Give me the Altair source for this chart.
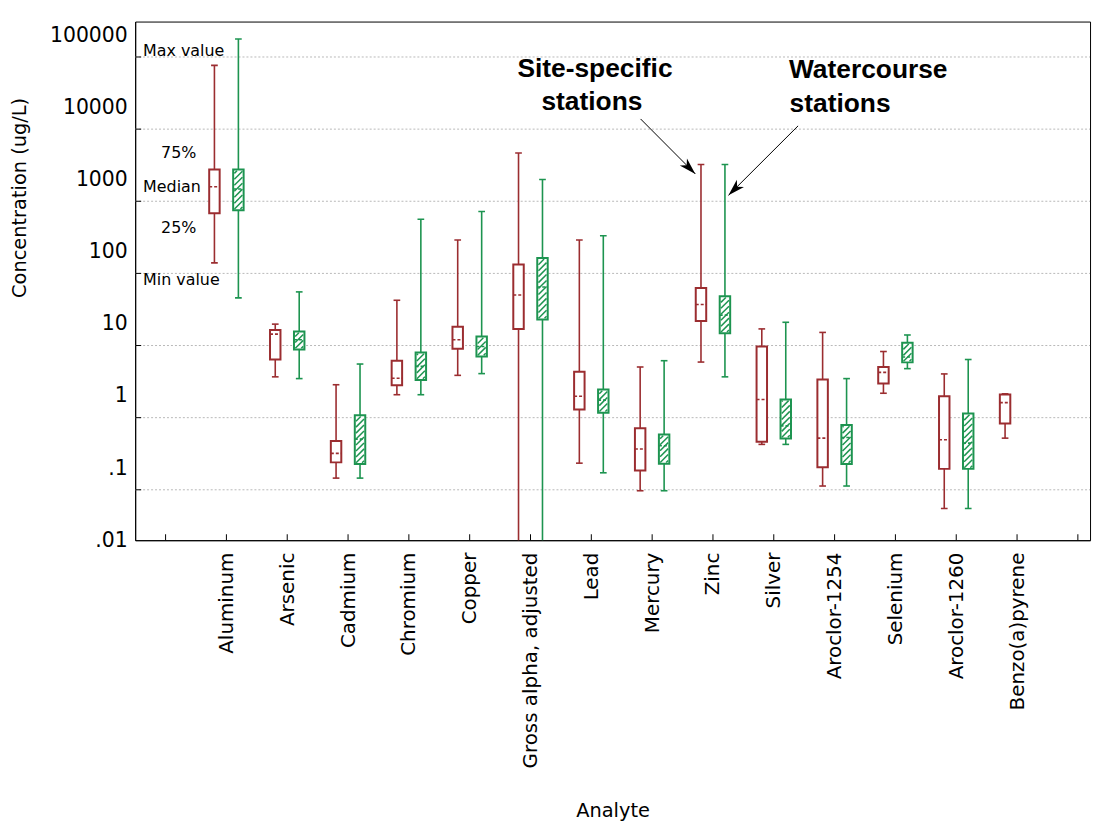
import json
import math
import altair as alt
import pandas as pd

# ---------------- data ----------------
ANALYTES = ["Aluminum", "Arsenic", "Cadmium", "Chromium", "Copper",
            "Gross alpha, adjusted", "Lead", "Mercury", "Zinc", "Silver",
            "Aroclor-1254", "Selenium", "Aroclor-1260", "Benzo(a)pyrene"]

SITE_MIN = [70, 1.84, 0.0726, 1.04, 1.93, 0.004, 0.117, 0.0485, 2.95, 0.213, 0.0564, 1.09, 0.0275, 0.26]
SITE_Q1  = [342, 3.2, 0.120, 1.41, 4.5, 8.5, 0.65, 0.0925, 10.9, 0.231, 0.103, 1.49, 0.0975, 0.415]
SITE_MED = [794, 7.2, 0.160, 1.76, 6.0, 25.1, 0.99, 0.184, 18.5, 0.895, 0.26, 2.12, 0.247, 0.807]
SITE_Q3  = [1377, 8.2, 0.237, 3.08, 9.1, 66.5, 2.17, 0.357, 31.4, 4.84, 1.69, 2.52, 0.99, 1.05]
SITE_MAX = [38300, 9.9, 1.43, 21.2, 145, 2330, 145, 2.52, 1615, 8.5, 7.6, 4.13, 2.02, 1.07]

WATER_MIN = [22.9, 1.74, 0.0726, 1.04, 2.04, 0.004, 0.086, 0.0485, 1.84, 0.213, 0.0564, 2.39, 0.0275]
WATER_Q1  = [376, 4.4, 0.114, 1.67, 3.52, 11.5, 0.587, 0.115, 7.4, 0.258, 0.114, 2.92, 0.0975]
WATER_MED = [738, 6.0, 0.252, 2.57, 4.84, 32.4, 0.875, 0.204, 13.2, 0.385, 0.266, 3.46, 0.222]
WATER_Q3  = [1377, 7.8, 0.54, 4.0, 6.65, 82, 1.23, 0.292, 24.1, 0.895, 0.396, 5.45, 0.569]
WATER_MAX = [89000, 27.7, 2.77, 282, 360, 1000, 166, 3.08, 1615, 10.5, 1.74, 7.0, 3.2]

SERIES = ["Site-specific stations", "Watercourse stations"]
COLORS = ["#9b2d30", "#1d9450"]

TICK_VALUES = [0.01, 0.1, 1, 10, 100, 1000, 10000, 100000]
GRID_VALUES = [0.05, 0.5, 5, 50, 500, 5000, 50000]
X_TICKS = list(range(-1, len(ANALYTES) + 1))

# ---------------- layout / style ----------------
W, H = 961, 522
X_DOM = [-1.5, 14.2]
Y_DOM = [0.01, 155000]
OFFSET = 0.197
HALF_W = 0.086
CAP_HALF = 0.055
FONT = "DejaVu Sans"

rows = []
for s, mins, q1s, meds, q3s, maxs, off in [
        (SERIES[0], SITE_MIN, SITE_Q1, SITE_MED, SITE_Q3, SITE_MAX, -OFFSET),
        (SERIES[1], WATER_MIN, WATER_Q1, WATER_MED, WATER_Q3, WATER_MAX, OFFSET)]:
    for i, (mn, a, m, b, mx) in enumerate(zip(mins, q1s, meds, q3s, maxs)):
        p = i + off
        rows.append(dict(series=s, analyte=ANALYTES[i], pos=p,
                         left=p - HALF_W, right=p + HALF_W,
                         cl=p - CAP_HALF, cr=p + CAP_HALF,
                         mn=mn, q1=a, med=m, q3=b, mx=mx))
df = pd.DataFrame(rows)

# hatch segments for the watercourse boxes (45 degree lines, clipped to box)
ppu = W / (X_DOM[1] - X_DOM[0])
ppd = H / (math.log10(Y_DOM[1]) - math.log10(Y_DOM[0]))
HATCH_STEP = 6.0
INSET = 1.2
hatch = []
for r in df[df.series == SERIES[1]].itertuples():
    w = 2 * HALF_W * ppu - 2 * INSET
    x0 = r.left + INSET / ppu
    ub = math.log10(r.q1) * ppd + INSET
    ut = math.log10(r.q3) * ppd - INSET
    u0 = ub - w + 2
    while u0 < ut:
        xa = max(0.0, ub - u0)
        xb = min(w, ut - u0)
        if xb > xa + 0.5:
            hatch.append(dict(x=x0 + xa / ppu, x2=x0 + xb / ppu,
                              y=10 ** ((u0 + xa) / ppd), y2=10 ** ((u0 + xb) / ppd)))
        u0 += HATCH_STEP
hatch_df = pd.DataFrame(hatch)

xs = alt.Scale(domain=X_DOM, nice=False, zero=False)
ys = alt.Scale(type="log", domain=Y_DOM, nice=False)
color = alt.Color("series:N", scale=alt.Scale(domain=SERIES, range=COLORS), legend=None)

names_js = json.dumps(ANALYTES)
x_axis = alt.Axis(values=X_TICKS, grid=False, tickSize=0, labelAngle=-90,
                  labelExpr=f"datum.value >= 0 && datum.value < {len(ANALYTES)} ? {names_js}[datum.value] : ''",
                  labelFont=FONT, labelFontSize=20, labelColor="black", labelPadding=12,
                  labelOverlap=False, labelFlush=False, labelLimit=400,
                  title="Analyte", titleFont=FONT, titleFontSize=19.5, titleFontWeight="normal",
                  titleColor="black", titleY=272, titleBaseline="middle",
                  domainColor="black", domainWidth=1)
y_axis = alt.Axis(values=TICK_VALUES, grid=False, tickSize=0,
                  labelExpr="datum.value >= 1 ? format(datum.value, 'd') : substring(format(datum.value, '.2~f'), 1)",
                  labelFont=FONT, labelFontSize=20.5, labelColor="black", labelPadding=8,
                  labelOverlap=False, labelFlush=False,
                  title="Concentration (ug/L)", titleFont=FONT, titleFontSize=19.5,
                  titleFontWeight="normal", titleColor="black",
                  titleX=-116, titleY=177, titleBaseline="middle",
                  domainColor="black", domainWidth=1)


def X(field):
    return alt.X(field, type="quantitative", scale=xs, axis=x_axis, title="Analyte")


def Y(field):
    return alt.Y(field, type="quantitative", scale=ys, axis=y_axis, title="Concentration (ug/L)")


grid = alt.Chart(pd.DataFrame({"g": GRID_VALUES})).mark_rule(
    color="#b8b8b8", strokeDash=[2, 2], strokeWidth=1).encode(
    y=Y("g"), x=alt.value(0), x2=alt.value(W))

ytick = alt.Chart(pd.DataFrame({"g": GRID_VALUES})).mark_rule(color="black", strokeWidth=1).encode(
    y=Y("g"), x=alt.value(0), x2=alt.value(6))

xtick = alt.Chart(pd.DataFrame({"t": X_TICKS})).mark_rule(color="black", strokeWidth=1).encode(
    x=X("t"), y=alt.value(H - 6), y2=alt.value(H))

whisker = alt.Chart(df).mark_rule(strokeWidth=1.6, clip=True).encode(
    x=X("pos"), y=Y("mn"), y2="mx:Q", color=color)

box = alt.Chart(df).mark_rect(fill="white", strokeWidth=2, clip=True).encode(
    x=X("left"), x2="right:Q", y=Y("q1"), y2="q3:Q", stroke=color)

hatch_layer = alt.Chart(hatch_df).mark_rule(color=COLORS[1], strokeWidth=1.5).encode(
    x=X("x"), x2="x2:Q", y=Y("y"), y2="y2:Q")

median = alt.Chart(df).mark_rule(strokeWidth=1.6, strokeDash=[3, 2]).encode(
    x=X("left"), x2="right:Q", y=Y("med"), color=color)

cap_min = alt.Chart(df).mark_rule(strokeWidth=1.6, clip=True).encode(
    x=X("cl"), x2="cr:Q", y=Y("mn"), color=color)
cap_max = alt.Chart(df).mark_rule(strokeWidth=1.6, clip=True).encode(
    x=X("cl"), x2="cr:Q", y=Y("mx"), color=color)

# ---------------- annotations ----------------
KEY_TEXT = ["Max value", "75%", "Median", "25%", "Min value"]
KEY_X = [-1.37, -0.785, -1.37, -0.785, -1.37]
KEY_Y = [60300, 2307, 785, 214, 40]
KEY_ALIGN = ["left", "center", "left", "center", "left"]
key_df = pd.DataFrame({"t": KEY_TEXT, "x": KEY_X, "y": KEY_Y, "a": KEY_ALIGN})
key_layers = []
for al in ["left", "center"]:
    key_layers.append(alt.Chart(key_df[key_df.a == al]).mark_text(
        font=FONT, fontSize=16, align=al, baseline="middle", color="black").encode(
        x=X("x"), y=Y("y"), text="t:N"))

CALL_TEXT = ["Site-specific", "stations", "Watercourse", "stations"]
CALL_X = [6.06, 6.01, 9.25, 9.26]
CALL_Y = [34400, 11970, 32700, 11250]
CALL_ALIGN = ["center", "center", "left", "left"]
call_df = pd.DataFrame({"t": CALL_TEXT, "x": CALL_X, "y": CALL_Y, "a": CALL_ALIGN})
call_layers = []
for al in ["left", "center"]:
    call_layers.append(alt.Chart(call_df[call_df.a == al]).mark_text(
        font="Liberation Sans", fontSize=26.5, fontWeight="bold", align=al,
        baseline="middle", color="black").encode(
        x=X("x"), y=Y("y"), text="t:N"))

ARROW_X0 = [6.81, 9.40]
ARROW_Y0 = [6920, 5550]
ARROW_X1 = [7.71, 8.255]
ARROW_Y1 = [1197, 604]
ARROW_ANGLE = [135, 225]
arrow_df = pd.DataFrame({"x0": ARROW_X0, "y0": ARROW_Y0, "x1": ARROW_X1,
                         "y1": ARROW_Y1, "ang": ARROW_ANGLE})
arrow_line = alt.Chart(arrow_df).mark_rule(color="black", strokeWidth=1).encode(
    x=X("x0"), x2="x1:Q", y=Y("y0"), y2="y1:Q")
arrow_head = alt.Chart(arrow_df).mark_point(
    shape="M0,0 L0.6,2 L0,1.45 L-0.6,2 Z", filled=True, color="black",
    size=289, opacity=1, strokeWidth=0).encode(
    x=X("x1"), y=Y("y1"),
    angle=alt.Angle("ang:Q", scale=None))

chart = alt.layer(
    grid, ytick, xtick, whisker, box, hatch_layer, median, cap_min, cap_max,
    *key_layers, *call_layers, arrow_line, arrow_head
).properties(
    width=W, height=H,
    padding={"left": 2, "top": 11, "right": 5, "bottom": 5},
    background="white"
).configure_view(stroke="black", strokeWidth=1)

chart.save("out.html", embed_options={"renderer": "svg", "actions": False})
